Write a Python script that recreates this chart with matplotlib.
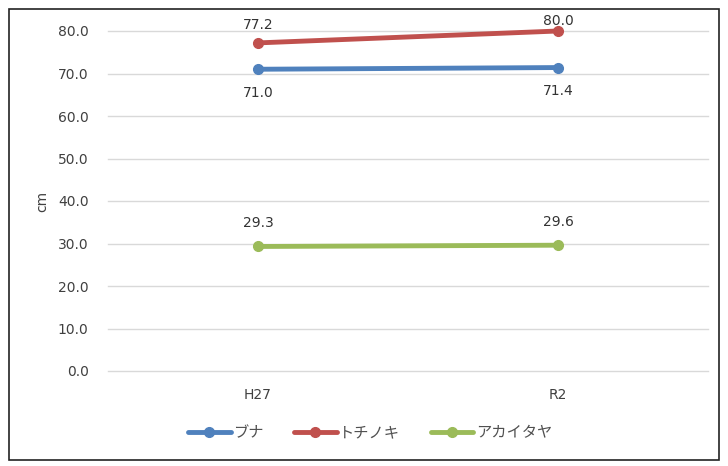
import matplotlib
matplotlib.use("Agg")
import matplotlib.pyplot as plt
from matplotlib.patches import Rectangle

plt.rcParams['font.family'] = ['DejaVu Sans', 'Noto Sans CJK JP']

categories = ["H27", "R2"]
series_names = ["ブナ", "トチノキ", "アカイタヤ"]
buna = [71.0, 71.4]
tochinoki = [77.2, 80.0]
akaitaya = [29.3, 29.6]
y_ticks = [0, 10, 20, 30, 40, 50, 60, 70, 80]

colors = ["#4F81BD", "#C0504D", "#9BBB59"]
label_offsets = [-17, 13, 17]  # points: below for ブナ, above for others
y_max = 80

fig = plt.figure(figsize=(7.28, 4.66), dpi=100)
fig.patches.append(Rectangle((9 / 728, 6 / 466), 710 / 728, 451 / 466,
                             transform=fig.transFigure, fill=False,
                             edgecolor="#222222", linewidth=1.2))

ax = fig.add_axes([108 / 728, 95 / 466, 600 / 728, 340 / 466])
x = list(range(len(categories)))
for name, vals, col, off in zip(series_names, [buna, tochinoki, akaitaya], colors, label_offsets):
    ax.plot(x, vals, color=col, linewidth=3.5, marker="o", markersize=7,
            label=name, solid_capstyle="round", clip_on=False, zorder=3)
    for xi, v in zip(x, vals):
        # keep labels near the top edge from running out of the plot area
        o = off if v < y_max - 2 else 7
        ax.annotate(f"{v:.1f}", (xi, v), xytext=(0, o), textcoords="offset points",
                    ha="center", va="center", fontsize=10, color="#333333", zorder=4)

ax.set_xlim(-0.5, len(categories) - 0.5)
ax.set_ylim(0, y_max)
ax.set_yticks(y_ticks)
ax.set_yticklabels([f"{t:.1f}" for t in y_ticks], fontsize=10, color="#404040")
ax.set_xticks(x)
ax.set_xticklabels(categories, fontsize=10, color="#404040")
ax.tick_params(length=0, pad=14)
ax.tick_params(axis="x", pad=12)
ax.grid(axis="y", color="#D9D9D9", linewidth=1)
for gl in ax.get_ygridlines():
    gl.set_clip_on(False)
ax.set_axisbelow(True)
for s in ax.spines.values():
    s.set_visible(False)
ax.set_ylabel("cm", fontsize=10, color="#404040", labelpad=6)

handles, labels = ax.get_legend_handles_labels()
fig.legend(handles, labels, loc="center", bbox_to_anchor=(370 / 728, 33 / 466),
           ncol=3, frameon=False, handlelength=2.8, columnspacing=2.0,
           handletextpad=0.15, prop={"family": ["Noto Sans CJK JP"], "size": 11},
           labelcolor="#505050")

fig.savefig("out.png", dpi=100)
